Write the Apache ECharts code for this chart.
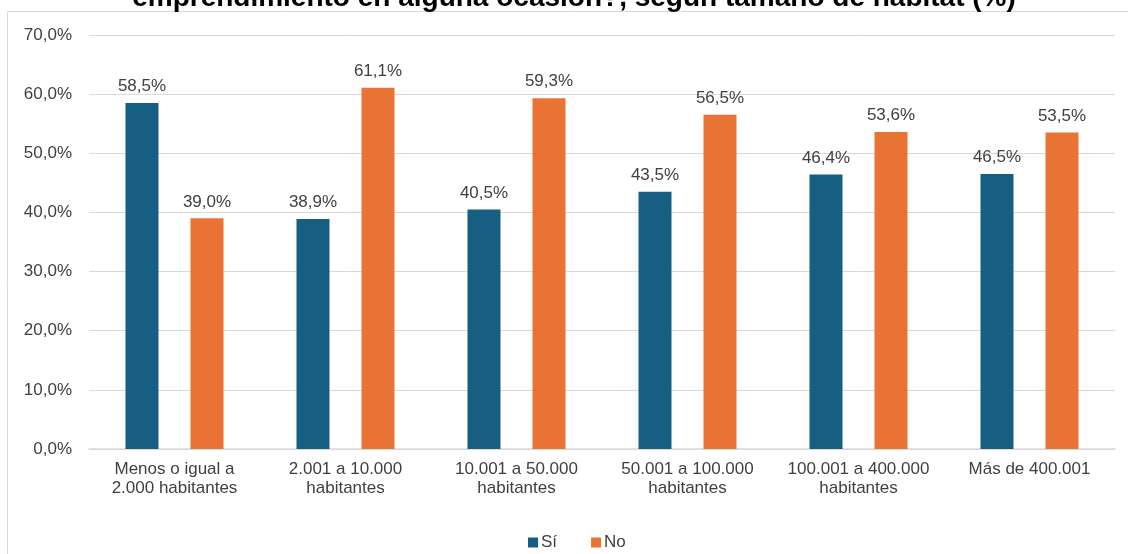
<!DOCTYPE html>
<html>
<head>
<meta charset="utf-8">
<script src="https://cdn.jsdelivr.net/npm/echarts@6/dist/echarts.min.js"></script>
<style>
html,body{margin:0;padding:0;background:#fff;}
#chart{width:1128px;height:554px;}
</style>
</head>
<body>
<div id="chart"></div>
<script>
const titleText = "emprendimiento en alguna ocasión?, según tamaño de hábitat (%)";
const categories = [
  "Menos o igual a\n2.000 habitantes",
  "2.001 a 10.000\nhabitantes",
  "10.001 a 50.000\nhabitantes",
  "50.001 a 100.000\nhabitantes",
  "100.001 a 400.000\nhabitantes",
  "Más de 400.001"
];
const seriesNames = ["Sí", "No"];
const siValues = [58.5, 38.9, 40.5, 43.5, 46.4, 46.5];
const noValues = [39.0, 61.1, 59.3, 56.5, 53.6, 53.5];
const yTicks = { min: 0, max: 70, interval: 10 };

const fmt = v => v.toFixed(1).replace('.', ',') + '%';
const FONT = '"Liberation Sans", Arial, sans-serif';
const TXT = '#404040';
const FS = 17;

const chart = echarts.init(document.getElementById('chart'), null, { renderer: 'canvas' });
chart.setOption({
  animation: false,
  backgroundColor: '#ffffff',
  textStyle: { fontFamily: FONT },
  graphic: [
    {
      type: 'rect', silent: true, z: -1,
      shape: { x: 7.5, y: 11.5, width: 1140, height: 600 },
      style: { fill: 'none', stroke: '#d9d9d9', lineWidth: 1 }
    },
    {
      type: 'text', silent: true,
      x: 574, y: 12,
      style: {
        text: titleText,
        font: 'bold 28px "Liberation Sans", Arial, sans-serif',
        fill: '#000000',
        align: 'center',
        verticalAlign: 'bottom'
      }
    }
  ],
  legend: {
    data: seriesNames,
    left: 523,
    top: 529,
    icon: 'rect',
    itemWidth: 10,
    itemHeight: 10,
    itemGap: 34,
    textStyle: { fontSize: FS, color: TXT, fontFamily: FONT, padding: [0, 0, 0, -2] }
  },
  grid: { left: 89, right: 13, top: 35, bottom: 105, containLabel: false },
  xAxis: {
    type: 'category',
    data: categories,
    axisLine: { show: true, lineStyle: { color: '#d9d9d9', width: 1.5 } },
    axisTick: { show: false },
    axisLabel: { fontSize: FS, color: TXT, fontFamily: FONT, lineHeight: 19, margin: 11, interval: 0 }
  },
  yAxis: {
    type: 'value',
    min: yTicks.min, max: yTicks.max, interval: yTicks.interval,
    axisLine: { show: false },
    axisTick: { show: false },
    splitLine: { lineStyle: { color: '#d9d9d9', width: 1 } },
    axisLabel: { fontSize: FS, color: TXT, fontFamily: FONT, margin: 17, formatter: v => fmt(v) }
  },
  series: [
    {
      name: seriesNames[0], type: 'bar', data: siValues,
      barWidth: 33, barGap: '97%',
      itemStyle: { color: '#175f82' },
      label: { show: true, position: 'top', distance: 8, fontSize: FS, color: TXT, fontFamily: FONT, formatter: p => fmt(p.value) }
    },
    {
      name: seriesNames[1], type: 'bar', data: noValues,
      barWidth: 33, barGap: '97%',
      itemStyle: { color: '#e97235' },
      label: { show: true, position: 'top', distance: 8, fontSize: FS, color: TXT, fontFamily: FONT, formatter: p => fmt(p.value) }
    }
  ]
});
</script>
</body>
</html>
